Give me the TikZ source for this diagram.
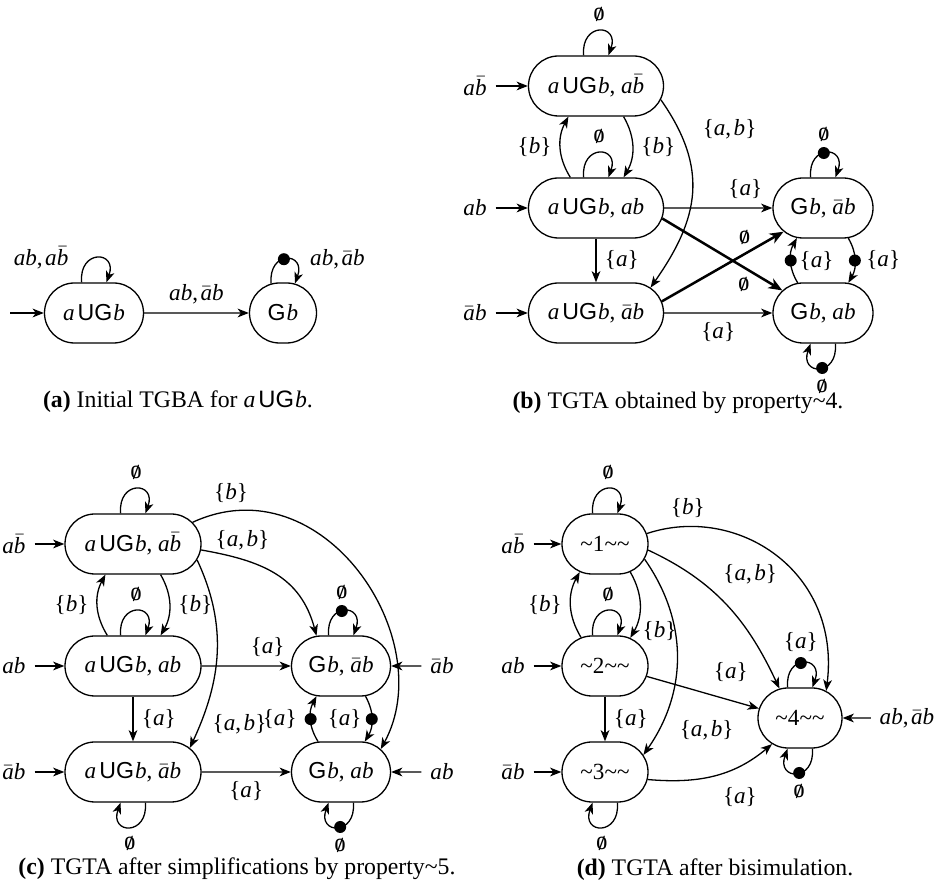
\documentclass[tikz,border=0pt]{standalone}
\usepackage{fontspec}
\setmainfont{Liberation Serif}
\newfontfamily\hv{Liberation Sans}
\usetikzlibrary{arrows.meta,shapes.misc}
\newcommand\ita{\textit{a}}
\newcommand\itb{\textit{b}}
\newcommand\bb{\ensuremath{\bar{\mbox{\itshape b}}}}
\newcommand\ba{\ensuremath{\bar{\mbox{\itshape a}}}}
\newcommand\opU{{\hv U}}
\newcommand\opG{{\hv G}}
\newcommand\es{\mbox{\fontsize{7.4}{8}\selectfont\boldmath$\emptyset$}}
\newcommand\aUGb{\ita\kern1.2pt\opU\opG\kern0.4pt\itb}
\newcommand\Gb{\opG\kern0.4pt\itb}
\newcommand\lset[1]{\{#1\}}
\newcommand\tl{\textasciitilde}
\begin{document}
\begin{tikzpicture}[x=0.4pt,y=0.4pt,line width=0.52pt,
  font=\fontsize{9.25}{11}\selectfont,
  >={Stealth[length=4.5pt,width=3.5pt,inset=1.3pt]},
  st/.style={rounded rectangle, draw, minimum height=24pt, minimum width=#1*0.4pt,
    inner xsep=0pt, inner ysep=0pt,
    execute at begin node={\hbox to 0pt\bgroup\hss},
    execute at end node={\hss\egroup}},
  accdot/.style={circle, fill=black, inner sep=0pt, minimum size=4.8pt},
  lpa/.style={out=95, in=70, distance=13.5pt},
  lpb/.style={out=-85, in=-110, distance=13.5pt},
  thk/.style={line width=1pt, -{Stealth[length=5.5pt,width=4.4pt,inset=1.6pt]}},
  captxt/.style={font=\fontsize{9.5}{11}\selectfont}]
\useasboundingbox (0,0) rectangle (941,-890);

% ---------------- (a)
\node[st=99] (a1) at (94,-313) {\aUGb};
\node[st=67] (a2) at (283,-313) {\Gb};
\coordinate (a0) at (10,-313);
\draw[->] (a0) -- (a1);
\draw[->] (a1) -- node[above]{\ita\itb,\kern1pt\ba\itb} (a2);
\draw[->] (a1.112) to[lpa] node[pos=.45,left=7pt]{\ita\itb,\kern1pt\ita\bb} (a1.68);
\draw[->] (a2.112) to[lpa] node[pos=.45,accdot]{} node[pos=.5,right=6pt]{\ita\itb,\kern1pt\ba\itb} (a2.68);
\node[captxt] (capa) at (178,-402) {\textbf{(a)} Initial TGBA for \aUGb.};

% ---------------- (b)
\node[st=135] (b1) at (596,-86) {\aUGb, \ita\bb};
\node[st=135] (b2) at (596,-208) {\aUGb, \ita\itb};
\node[st=135] (b3) at (596,-313) {\aUGb, \ba\itb};
\node[st=100] (b4) at (823,-208) {\Gb, \ba\itb};
\node[st=100] (b5) at (823,-313) {\Gb, \ita\itb};
\node (bi1) at (475,-86) {\ita\bb};
\node (bi2) at (475,-208) {\ita\itb};
\node (bi3) at (475,-313) {\ba\itb};
\draw[->] (bi1) -- (b1);
\draw[->] (bi2) -- (b2);
\draw[->] (bi3) -- (b3);
\draw[->] (b1.112) to[lpa] node[above]{\es} (b1.68);
\draw[->] (b2.112) to[lpa] node[above]{\es} (b2.68);
\draw[->] (b1.-48) to[bend left=30] node[right]{\lset{\itb}} (b2.48);
\draw[->] (b2.130) to[bend left=30] node[left]{\lset{\itb}} (b1.-132);
\draw[->] (b1.-12) to[out=-55,in=55,looseness=1.15] node[pos=.15,right=6pt]{\lset{\ita,\kern1pt\itb}} (b3.25);
\draw[->] (b2) -- node[right]{\lset{\ita}} (b3);
\draw[->] (b2) -- node[pos=.75,above]{\lset{\ita}} (b4);
\draw[thk] (b2.-9) -- node[pos=.68,below]{\es} (b5.151);
\draw[thk] (b3.10) -- node[pos=.68,above]{\es} (b4.-149);
\draw[->] (b3) -- node[below]{\lset{\ita}} (b5);
\draw[->] (b4.-50) to[bend left=30] node[accdot]{} node[right=1pt]{\lset{\ita}} (b5.50);
\draw[->] (b5.130) to[bend left=30] node[accdot]{} node[right=0pt]{\lset{\ita}} (b4.-131);
\draw[->] (b4.112) to[lpa] node[pos=.45,accdot]{} node[pos=.45,above=1pt]{\es} (b4.68);
\draw[->] (b5.-68) to[lpb] node[pos=.45,accdot]{} node[pos=.45,below=1pt]{\es} (b5.-112);
\node[captxt] (capb) at (678,-403) {\textbf{(b)} TGTA obtained by property\tl4.};

% ---------------- (c)
\node[st=136] (c1) at (133,-544) {\aUGb, \ita\bb};
\node[st=136] (c2) at (133,-666) {\aUGb, \ita\itb};
\node[st=136] (c3) at (133,-772) {\aUGb, \ba\itb};
\node[st=99] (c4) at (341,-666) {\Gb, \ba\itb};
\node[st=99] (c5) at (341,-772) {\Gb, \ita\itb};
\node (ci1) at (14,-544) {\ita\bb};
\node (ci2) at (14,-666) {\ita\itb};
\node (ci3) at (14,-772) {\ba\itb};
\node (ci4) at (442,-666) {\ba\itb};
\node (ci5) at (442,-772) {\ita\itb};
\draw[->] (ci1) -- (c1);
\draw[->] (ci2) -- (c2);
\draw[->] (ci3) -- (c3);
\draw[->] (ci4) -- (c4);
\draw[->] (ci5) -- (c5);
\draw[->] (c1.112) to[lpa] node[above]{\es} (c1.68);
\draw[->] (c2.112) to[lpa] node[above]{\es} (c2.68);
\draw[->] (c3.-68) to[lpb] node[below]{\es} (c3.-112);
\draw[->] (c4.112) to[lpa] node[pos=.45,accdot]{} node[pos=.45,above=1pt]{\es} (c4.68);
\draw[->] (c5.-68) to[lpb] node[pos=.45,accdot]{} node[pos=.45,below=1pt]{\es} (c5.-112);
\draw[->] (c1.-48) to[bend left=30] node[right]{\lset{\itb}} (c2.48);
\draw[->] (c2.130) to[bend left=30] node[left]{\lset{\itb}} (c1.-132);
\draw[->] (c1.-5) to[out=-10,in=105,looseness=1.1] node[pos=.25,above]{\lset{\ita,\kern1pt\itb}} (c4.129);
\draw[->] (c1.20) .. controls +(130,60) and +(60,110) .. node[pos=.1,above]{\lset{\itb}} (c5.30);
\draw[->] (c1.-14) to[out=-65,in=65] node[pos=.88,right=1.5pt]{\lset{\ita,\kern1pt\itb}} (c3.23);
\draw[->] (c2) -- node[right]{\lset{\ita}} (c3);
\draw[->] (c2) -- node[pos=.74,above]{\lset{\ita}} (c4);
\draw[->] (c3) -- node[below]{\lset{\ita}} (c5);
\draw[->] (c5.127) to[bend left=30] node[accdot]{} node[left=2pt]{\lset{\ita}} (c4.-129);
\draw[->] (c4.-51) to[bend left=30] node[accdot]{} node[left=0.5pt]{\lset{\ita}} (c5.52);
\node[captxt] (capc) at (237,-869) {\textbf{(c)} TGTA after simplifications by property\tl5.};

% ---------------- (d)
\node[st=86] (d1) at (605,-544) {\tl1\tl\tl};
\node[st=86] (d2) at (605,-666) {\tl2\tl\tl};
\node[st=86] (d3) at (605,-772) {\tl3\tl\tl};
\node[st=84] (d4) at (800,-718) {\tl4\tl\tl};
\node (di1) at (513,-544) {\ita\bb};
\node (di2) at (513,-666) {\ita\itb};
\node (di3) at (513,-772) {\ba\itb};
\node (di4) at (907,-718) {\ita\itb,\kern1pt\ba\itb};
\draw[->] (di1) -- (d1);
\draw[->] (di2) -- (d2);
\draw[->] (di3) -- (d3);
\draw[->] (di4) -- (d4);
\draw[->] (d1.112) to[lpa] node[above]{\es} (d1.68);
\draw[->] (d2.112) to[lpa] node[above]{\es} (d2.68);
\draw[->] (d3.-68) to[lpb] node[below]{\es} (d3.-112);
\draw[->] (d4.112) to[lpa] node[pos=.45,accdot]{} node[pos=.45,above=1pt]{\lset{\ita}} (d4.68);
\draw[->] (d4.-68) to[lpb] node[pos=.45,accdot]{} node[pos=.45,below=1pt]{\es} (d4.-112);
\draw[->] (d1.-48) to[bend left=30] node[pos=.9,right]{\lset{\itb}} (d2.48);
\draw[->] (d2.130) to[bend left=30] node[left]{\lset{\itb}} (d1.-132);
\draw[->] (d1.14) .. controls +(90,30) and +(15,120) .. node[pos=.15,above]{\lset{\itb}} (d4.46);
\draw[->] (d1.-8) to[out=-25,in=115] node[pos=.4,above right]{\lset{\ita,\kern1pt\itb}} (d4.125);
\draw[->] (d1.-21) to[out=-55,in=55] node[pos=.87,right=5pt]{\lset{\ita,\kern1pt\itb}} (d3.24);
\draw[->] (d2) -- node[right]{\lset{\ita}} (d3);
\draw[->] (d2.-14) -- node[pos=.75,above=4pt]{\lset{\ita}} (d4.167);
\draw[->] (d3.-10) to[out=-5,in=-140] node[pos=.72,below=5pt]{\lset{\ita}} (d4.-137);
\node[captxt] (capd) at (715,-870) {\textbf{(d)} TGTA after bisimulation.};
\end{tikzpicture}
\end{document}
